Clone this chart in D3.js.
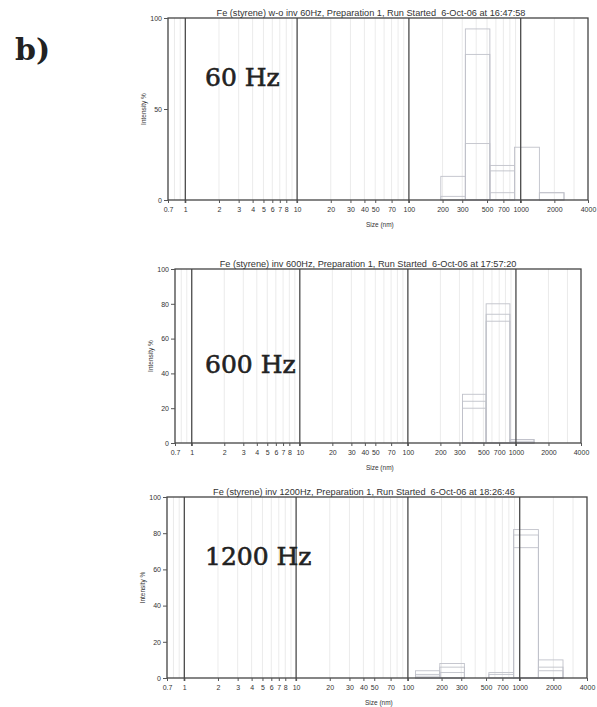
<!DOCTYPE html>
<html>
<head>
<meta charset="utf-8">
<script src="https://cdn.jsdelivr.net/npm/d3@7"></script>
<style>
  body { margin: 0; background: #fff; }
  svg { display: block; }
  .title, .tick-label, .axis-label { font-family: "Liberation Sans", Arial, sans-serif; fill: #333; }
  .freq { font-family: "DejaVu Serif", serif; fill: #222; }
</style>
</head>
<body>
<div id="chart"></div>
<script>
// size bin edges (nm)
var binEdges = [117, 193, 320, 530, 880, 1470, 2440];

// intensity % per bin, one array per run (3 runs per sample)
var runs60 = [
  [0, 13, 31, 19, 29, 4],
  [0, 2, 94, 4, 0, 0],
  [0, 0, 80, 16, 0, 4]
];
var runs600 = [
  [0, 0, 28, 70, 2, 0],
  [0, 0, 24, 74, 2, 0],
  [0, 0, 20, 80, 1, 0]
];
var runs1200 = [
  [4, 8, 0, 3, 72, 10],
  [2, 6, 0, 2, 79, 6],
  [1, 3, 0, 0, 82, 4]
];

var titles = [
  "Fe (styrene) w-o inv 60Hz, Preparation 1, Run Started  6-Oct-06 at 16:47:58",
  "Fe (styrene) inv 600Hz, Preparation 1, Run Started  6-Oct-06 at 17:57:20",
  "Fe (styrene) inv 1200Hz, Preparation 1, Run Started  6-Oct-06 at 18:26:46"
];
var freqLabels = ["60 Hz", "600 Hz", "1200 Hz"];

var xTickLabels = [0.7, 1, 2, 3, 4, 5, 6, 7, 8, 10, 20, 30, 40, 50, 70, 100, 200, 300, 500, 700, 1000, 2000, 4000];
var gridValues = [0.8, 0.9, 2, 3, 4, 5, 6, 7, 8, 9, 20, 30, 40, 50, 60, 70, 80, 90,
                  200, 300, 400, 500, 600, 700, 800, 900, 2000, 3000];
var decades = [1, 10, 100, 1000];
var yTicksCoarse = [0, 50, 100];
var yTicksFine = [0, 20, 40, 60, 80, 100];

var svg = d3.select("#chart").append("svg")
    .attr("width", 597)
    .attr("height", 707);

svg.append("text")
    .attr("x", 15)
    .attr("y", 60)
    .attr("class", "freq")
    .style("font-size", "30px")
    .style("font-weight", "bold")
    .text("b)");

function SizePanel(_svg, _data, _config) {
  this.svg = _svg;
  this.data = _data;
  this.config = _config;
  this.initVis();
}

SizePanel.prototype.initVis = function () {
  var vis = this;
  var c = vis.config;

  vis.g = vis.svg.append("g");

  vis.x = d3.scaleLog()
      .domain([0.7, 4000])
      .range([c.left, c.right]);

  vis.y = d3.scaleLinear()
      .domain([0, 100])
      .range([c.bottom, c.top]);

  vis.renderVis();
};

SizePanel.prototype.renderVis = function () {
  var vis = this;
  var c = vis.config;

  // light grid at minor positions
  vis.g.selectAll("line.grid")
      .data(gridValues)
      .enter().append("line")
      .attr("class", "grid")
      .attr("x1", d => vis.x(d)).attr("x2", d => vis.x(d))
      .attr("y1", c.top).attr("y2", c.bottom)
      .attr("stroke", "#e6e6e6")
      .attr("stroke-width", 0.8);

  // histogram outlines, one set per run
  var bars = [];
  vis.data.forEach(function (run) {
    run.forEach(function (v, i) {
      if (v > 0) bars.push({ x0: binEdges[i], x1: binEdges[i + 1], v: v });
    });
  });

  vis.g.selectAll("rect.bar")
      .data(bars)
      .enter().append("rect")
      .attr("class", "bar")
      .attr("x", d => vis.x(d.x0))
      .attr("width", d => vis.x(d.x1) - vis.x(d.x0))
      .attr("y", d => vis.y(d.v))
      .attr("height", d => vis.y(0) - vis.y(d.v))
      .attr("fill", "none")
      .attr("stroke", "#c0c2ca")
      .attr("stroke-width", 0.9);

  // dark decade lines
  vis.g.selectAll("line.decade")
      .data(decades)
      .enter().append("line")
      .attr("class", "decade")
      .attr("x1", d => vis.x(d)).attr("x2", d => vis.x(d))
      .attr("y1", c.top).attr("y2", c.bottom + 3)
      .attr("stroke", "#4a4a4a")
      .attr("stroke-width", 1.3);

  // frame
  vis.g.append("rect")
      .attr("x", c.left).attr("y", c.top)
      .attr("width", c.right - c.left)
      .attr("height", c.bottom - c.top)
      .attr("fill", "none")
      .attr("stroke", "#444")
      .attr("stroke-width", 1.3);

  // x axis
  var xAxis = d3.axisBottom(vis.x)
      .tickValues(xTickLabels)
      .tickFormat(d3.format("~g"))
      .tickSize(3)
      .tickPadding(4);

  var gx = vis.g.append("g")
      .attr("transform", `translate(0, ${c.bottom})`)
      .call(xAxis);
  gx.select(".domain").remove();
  gx.selectAll("line").attr("stroke", "#555");
  gx.selectAll("text")
      .attr("class", "tick-label")
      .style("font-size", "7px")
      .attr("fill", "#333");

  // y axis
  var yAxis = d3.axisLeft(vis.y)
      .tickValues(c.yTicks)
      .tickSize(4)
      .tickPadding(2);

  var gy = vis.g.append("g")
      .attr("transform", `translate(${c.left}, 0)`)
      .call(yAxis);
  gy.select(".domain").remove();
  gy.selectAll("line").attr("stroke", "#555");
  gy.selectAll("text")
      .attr("class", "tick-label")
      .style("font-size", "7px")
      .attr("fill", "#333");

  // labels
  vis.g.append("text")
      .attr("class", "title")
      .attr("x", c.titleX)
      .attr("y", c.top - 2)
      .attr("text-anchor", "middle")
      .style("font-size", "9.2px")
      .style("white-space", "pre")
      .text(c.title);

  vis.g.append("text")
      .attr("class", "axis-label")
      .attr("x", vis.x(55))
      .attr("y", c.bottom + 27)
      .attr("text-anchor", "middle")
      .style("font-size", "6.5px")
      .text("Size (nm)");

  vis.g.append("text")
      .attr("class", "axis-label")
      .attr("transform", `translate(${c.left - 22}, ${(c.top + c.bottom) / 2}) rotate(-90)`)
      .attr("text-anchor", "middle")
      .style("font-size", "6.5px")
      .text("Intensity %");

  vis.g.append("text")
      .attr("class", "freq")
      .attr("x", 205)
      .attr("y", c.freqY)
      .style("font-size", "25px")
      .attr("stroke", "#222")
      .attr("stroke-width", 0.6)
      .text(c.freq);
};

new SizePanel(svg, runs60, {
  left: 168, right: 588, top: 18, bottom: 200,
  yTicks: yTicksCoarse, title: titles[0], titleX: 371, freq: freqLabels[0], freqY: 86
});
new SizePanel(svg, runs600, {
  left: 175, right: 581, top: 269, bottom: 443,
  yTicks: yTicksFine, title: titles[1], titleX: 368, freq: freqLabels[1], freqY: 373
});
new SizePanel(svg, runs1200, {
  left: 167, right: 587, top: 497, bottom: 678,
  yTicks: yTicksFine, title: titles[2], titleX: 364, freq: freqLabels[2], freqY: 565
});
</script>
</body>
</html>
